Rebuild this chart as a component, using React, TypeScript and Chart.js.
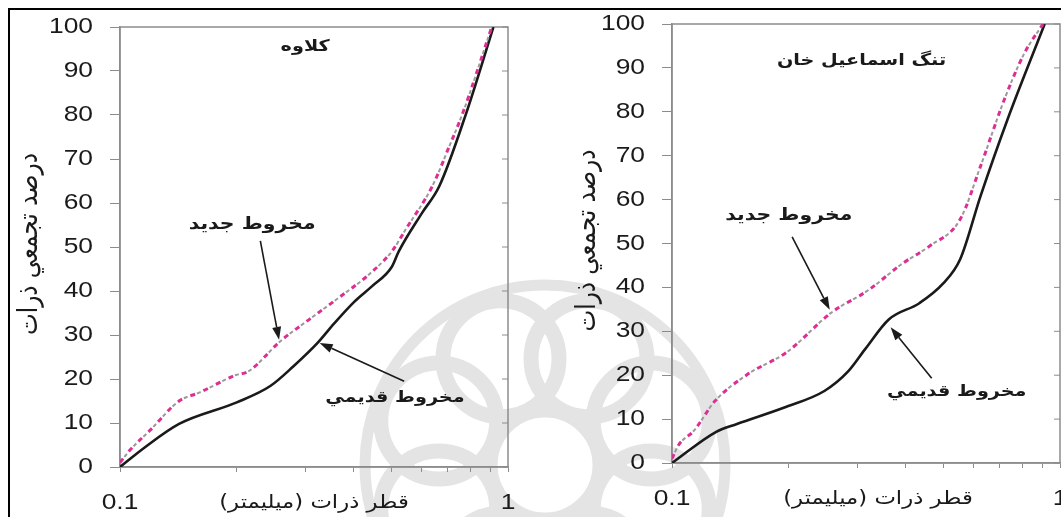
import React, { useEffect, useRef } from 'react';
import { Chart, registerables } from 'chart.js';

Chart.register(...registerables);

// ---- Kalaveh: grain size (mm) vs cumulative passing (%) ----
const kalavehOldSize = [0.1, 0.116, 0.142, 0.2, 0.244, 0.28, 0.323, 0.357, 0.402, 0.445, 0.502, 0.523, 0.6, 0.665, 0.781, 0.917];
const kalavehOldPct = [0, 4.5, 9.8, 14.7, 18.4, 22.9, 28.2, 32.7, 37.6, 41, 45.5, 49, 57.7, 63.8, 80.5, 100];
const kalavehNewSize = [0.1, 0.106, 0.12, 0.142, 0.16, 0.199, 0.214, 0.259, 0.307, 0.364, 0.436, 0.502, 0.544, 0.638, 0.706, 0.765, 0.908];
const kalavehNewPct = [1, 3.8, 8.5, 15, 16.9, 20.9, 21.7, 28.6, 33.5, 38.3, 43.6, 49, 53.9, 63.8, 72.9, 80.5, 100];

// ---- Tang-e Esmail Khan ----
const tangOldSize = [0.1, 0.13, 0.147, 0.194, 0.247, 0.284, 0.315, 0.362, 0.434, 0.5, 0.553, 0.624, 0.732, 0.913];
const tangOldPct = [0, 7.1, 8.9, 12.6, 16.4, 20.8, 26, 32.7, 36.4, 40.9, 46.4, 60.8, 78.2, 100];
const tangNewSize = [0.1, 0.104, 0.114, 0.129, 0.156, 0.198, 0.257, 0.321, 0.392, 0.461, 0.553, 0.624, 0.718, 0.809, 0.904];
const tangNewPct = [1, 4.1, 7.4, 14.1, 20.1, 25.3, 34.2, 39.4, 45.4, 49.4, 55.5, 67.6, 82.7, 93.3, 100];

// ---- axes ----
const yTicks = [0, 10, 20, 30, 40, 50, 60, 70, 80, 90, 100];
const xTicks = [0.1, 0.2, 0.3, 0.4, 0.5, 0.6, 0.7, 0.8, 0.9, 1];
const xLabeledTicks = [0.1, 1];

// ---- text ----
const Y_TITLE = 'درصد تجمعي ذرات';
const X_TITLE = 'قطر ذرات (ميليمتر)';
const NEW_CONE = 'مخروط جديد';
const OLD_CONE = 'مخروط قديمي';
const KALAVEH = 'کلاوه';
const TANG = 'تنگ اسماعيل خان';

const NUM_FONT = '"Liberation Sans", Arial, sans-serif';
const FA_FONT = '"DejaVu Sans", "Noto Sans", sans-serif';
const AXIS = '#8c8c8c';
const INK = '#1a1a1a';
const PINK = '#dc2f93';
const GREY_DASH = '#9a9a9a';
// all lettering in this figure is set slightly wide
const WIDE = 1.2;

// keep right-to-left labels in one RTL run inside an LTR canvas
const rtl = (s: string) => '\u200F' + s + '\u200F';
const pts = (xs: number[], ys: number[]) => xs.map((x, i) => ({ x, y: ys[i] }));

type P = { x: number; y: number };
type Panel = {
  title: string;
  titleAt: P;
  oldSize: number[];
  oldPct: number[];
  newSize: number[];
  newPct: number[];
  newText: P;
  newArrow: [P, P];
  oldText: P;
  oldArrow: [P, P];
  left: number;
  padTop: number;
  xAxisHeight: number;
  yTitleGap: number;
  xTitleShift: number;
};

const panels: Panel[] = [
  {
    title: KALAVEH,
    titleAt: { x: 0.3, y: 95.5 },
    oldSize: kalavehOldSize,
    oldPct: kalavehOldPct,
    newSize: kalavehNewSize,
    newPct: kalavehNewPct,
    newText: { x: 0.219, y: 55.2 },
    newArrow: [{ x: 0.23, y: 51.4 }, { x: 0.257, y: 28.9 }],
    oldText: { x: 0.511, y: 15.8 },
    oldArrow: [{ x: 0.54, y: 19.5 }, { x: 0.327, y: 28.2 }],
    left: 10,
    padTop: 17,
    xAxisHeight: 50,
    yTitleGap: 90,
    xTitleShift: 0,
  },
  {
    title: TANG,
    titleAt: { x: 0.308, y: 91.6 },
    oldSize: tangOldSize,
    oldPct: tangOldPct,
    newSize: tangNewSize,
    newPct: tangNewPct,
    newText: { x: 0.2, y: 56.3 },
    newArrow: [{ x: 0.204, y: 51.5 }, { x: 0.255, y: 34.9 }],
    oldText: { x: 0.542, y: 16.2 },
    oldArrow: [{ x: 0.467, y: 19.3 }, { x: 0.366, y: 30.9 }],
    left: 562,
    padTop: 14,
    xAxisHeight: 54,
    yTitleGap: 84,
    xTitleShift: 12,
  },
];

const CANVAS_W = 535;
const CANVAS_H = 507;

function wideText(
  ctx: CanvasRenderingContext2D,
  text: string,
  x: number,
  y: number,
  font: string,
  align: CanvasTextAlign = 'center',
  rotate = 0
) {
  ctx.save();
  ctx.translate(x, y);
  if (rotate) {
    ctx.rotate(rotate);
    ctx.scale(1, WIDE);
  } else {
    ctx.scale(WIDE, 1);
  }
  ctx.font = font;
  ctx.textAlign = align;
  ctx.textBaseline = 'middle';
  ctx.fillText(text, 0, 0);
  ctx.restore();
}

function drawArrow(ctx: CanvasRenderingContext2D, x0: number, y0: number, x1: number, y1: number) {
  const a = Math.atan2(y1 - y0, x1 - x0);
  const head = 13;
  const half = 4.5;
  const bx = x1 - head * Math.cos(a);
  const by = y1 - head * Math.sin(a);
  ctx.beginPath();
  ctx.moveTo(x0, y0);
  ctx.lineTo(bx, by);
  ctx.stroke();
  ctx.beginPath();
  ctx.moveTo(x1, y1);
  ctx.lineTo(bx + half * Math.sin(a), by - half * Math.cos(a));
  ctx.lineTo(bx - half * Math.sin(a), by + half * Math.cos(a));
  ctx.closePath();
  ctx.fill();
}

function buildChart(canvas: HTMLCanvasElement, p: Panel) {
  const decor = {
    id: 'panelDecor',
    beforeDatasetsDraw(chart: any) {
      const { ctx, chartArea: a, scales } = chart;
      ctx.save();
      ctx.strokeStyle = AXIS;
      ctx.lineWidth = 1.5;
      ctx.strokeRect(a.left, a.top, a.right - a.left, a.bottom - a.top);
      // short inward ticks on the right frame
      ctx.lineWidth = 1;
      yTicks.forEach((v) => {
        const y = scales.y.getPixelForValue(v);
        ctx.beginPath();
        ctx.moveTo(a.right - 6, y);
        ctx.lineTo(a.right, y);
        ctx.stroke();
      });
      ctx.restore();
    },
    afterDatasetsDraw(chart: any) {
      const { ctx, chartArea: a, scales } = chart;
      const px = (q: P) => [scales.x.getPixelForValue(q.x), scales.y.getPixelForValue(q.y)];
      ctx.save();
      ctx.fillStyle = INK;
      ctx.strokeStyle = INK;

      // tick labels
      const numFont = `22px ${NUM_FONT}`;
      yTicks.forEach((v) => {
        wideText(ctx, String(v), a.left - 27, scales.y.getPixelForValue(v), numFont, 'right');
      });
      xLabeledTicks.forEach((v) => {
        wideText(ctx, String(v), scales.x.getPixelForValue(v), a.bottom + 36, numFont, 'center');
      });

      // axis titles
      wideText(ctx, rtl(X_TITLE), (a.left + a.right) / 2 + p.xTitleShift, a.bottom + 36, `19px ${FA_FONT}`);
      wideText(ctx, rtl(Y_TITLE), a.left - p.yTitleGap, (a.top + a.bottom) / 2 - 3, `23px ${FA_FONT}`, 'center', -Math.PI / 2);

      // panel title and cone labels
      const [tx, ty] = px(p.titleAt);
      wideText(ctx, rtl(p.title), tx, ty, `bold 16px ${FA_FONT}`);
      const [nx, ny] = px(p.newText);
      wideText(ctx, rtl(NEW_CONE), nx, ny, `bold 17px ${FA_FONT}`);
      const [ox, oy] = px(p.oldText);
      wideText(ctx, rtl(OLD_CONE), ox, oy, `bold 16px ${FA_FONT}`);

      // arrows
      ctx.lineWidth = 1.6;
      const [a0x, a0y] = px(p.newArrow[0]);
      const [a1x, a1y] = px(p.newArrow[1]);
      drawArrow(ctx, a0x, a0y, a1x, a1y);
      const [b0x, b0y] = px(p.oldArrow[0]);
      const [b1x, b1y] = px(p.oldArrow[1]);
      drawArrow(ctx, b0x, b0y, b1x, b1y);
      ctx.restore();
    },
  };

  const newPts = pts(p.newSize, p.newPct);
  return new Chart(canvas, {
    type: 'line',
    data: {
      datasets: [
        {
          label: NEW_CONE,
          data: newPts,
          borderColor: PINK,
          borderWidth: 3,
          borderDash: [5, 9],
          pointRadius: 0,
          cubicInterpolationMode: 'monotone',
        },
        {
          label: NEW_CONE,
          data: newPts,
          borderColor: GREY_DASH,
          borderWidth: 2,
          borderDash: [4, 10],
          borderDashOffset: -7,
          pointRadius: 0,
          cubicInterpolationMode: 'monotone',
        },
        {
          label: OLD_CONE,
          data: pts(p.oldSize, p.oldPct),
          borderColor: INK,
          borderWidth: 2.6,
          pointRadius: 0,
          cubicInterpolationMode: 'monotone',
        },
      ],
    },
    options: {
      animation: false,
      responsive: false,
      maintainAspectRatio: false,
      events: [],
      layout: { padding: { top: p.padTop, right: 37, left: 0, bottom: 0 } },
      plugins: { legend: { display: false }, tooltip: { enabled: false } },
      scales: {
        x: {
          type: 'logarithmic',
          min: 0.1,
          max: 1,
          afterBuildTicks: (s: any) => {
            s.ticks = xTicks.map((v) => ({ value: v }));
          },
          afterFit: (s: any) => {
            s.height = p.xAxisHeight;
          },
          ticks: { display: false, autoSkip: false, maxRotation: 0 },
          grid: { drawOnChartArea: false, drawTicks: true, tickLength: 5, color: AXIS },
          border: { color: AXIS, width: 1.5 },
        },
        y: {
          min: 0,
          max: 100,
          afterBuildTicks: (s: any) => {
            s.ticks = yTicks.map((v) => ({ value: v }));
          },
          afterFit: (s: any) => {
            s.width = 110;
          },
          ticks: { display: false },
          grid: { drawOnChartArea: false, drawTicks: true, tickLength: 10, color: AXIS },
          border: { color: AXIS, width: 1.5 },
        },
      },
    },
    plugins: [decor],
  } as any);
}

function PanelChart({ panel }: { panel: Panel }) {
  const ref = useRef<HTMLCanvasElement | null>(null);
  useEffect(() => {
    if (!ref.current) return;
    const chart = buildChart(ref.current, panel);
    return () => chart.destroy();
  }, [panel]);
  return (
    <canvas
      ref={ref}
      width={CANVAS_W}
      height={CANVAS_H}
      style={{ position: 'absolute', left: panel.left, top: 10, width: CANVAS_W, height: CANVAS_H }}
    />
  );
}

// faint rosette emblem printed behind both panels
function Emblem() {
  const cx = 545;
  const cy = 465;
  const petals = Array.from({ length: 8 }, (_, i) => (i * Math.PI) / 4 + Math.PI / 8);
  return (
    <svg width={1061} height={517} style={{ position: 'absolute', left: 0, top: 0 }}>
      <g fill="none" stroke="#e4e4e4" strokeWidth={15}>
        <circle cx={cx} cy={cy} r={55} />
        {petals.map((t, i) => (
          <circle key={i} cx={cx + 115 * Math.cos(t)} cy={cy + 115 * Math.sin(t)} r={58} />
        ))}
        <circle cx={cx} cy={cy} r={180} strokeWidth={11} />
      </g>
    </svg>
  );
}

export default function App() {
  return (
    <div
      style={{
        position: 'fixed',
        left: 0,
        top: 0,
        width: 1061,
        height: 517,
        overflow: 'hidden',
        background: '#ffffff',
      }}
    >
      <Emblem />
      <div style={{ position: 'absolute', left: 8, top: 8, width: 1053, height: 2, background: '#000' }} />
      <div style={{ position: 'absolute', left: 8, top: 8, width: 2, height: 509, background: '#000' }} />
      {panels.map((p, i) => (
        <PanelChart key={i} panel={p} />
      ))}
    </div>
  );
}
